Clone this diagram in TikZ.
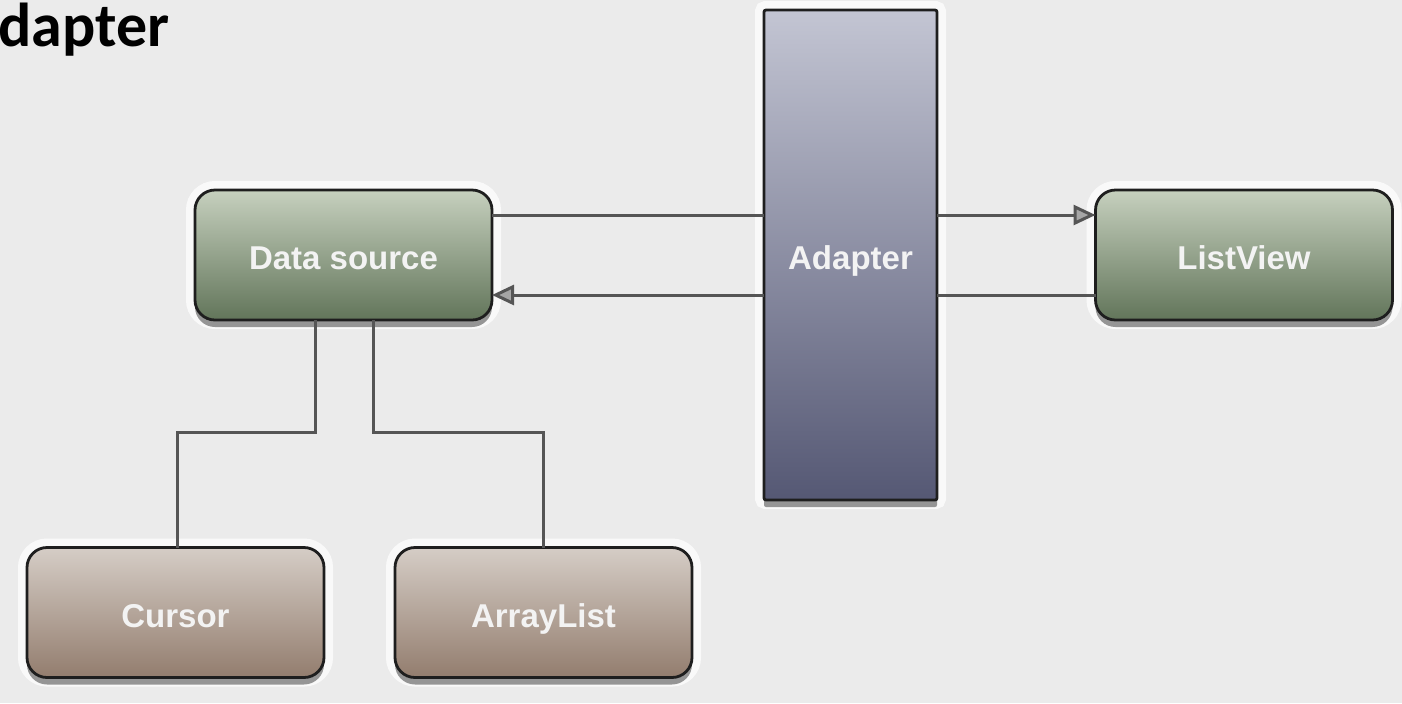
\documentclass[tikz,border=0pt]{standalone}
\usepackage{fontspec}
\setmainfont{Liberation Sans}
\newfontfamily\titlefont{Carlito}
\usetikzlibrary{shadows,arrows.meta}
\definecolor{bgc}{HTML}{EBEBEB}
\definecolor{greenT}{HTML}{C6D0BE}
\definecolor{greenB}{HTML}{62755A}
\definecolor{brownT}{HTML}{D5CDC6}
\definecolor{brownB}{HTML}{937D6E}
\definecolor{blueT}{HTML}{C3C5D3}
\definecolor{blueB}{HTML}{555874}
\definecolor{edgec}{HTML}{1E1E1E}
\definecolor{linec}{HTML}{555555}
\definecolor{labc}{HTML}{F3F3F3}
\tikzset{
  boxbase/.style={draw=edgec, line width=1.4pt, inner sep=0pt, outer sep=0pt,
    text=labc, font=\fontsize{16.5}{20}\selectfont\bfseries,
    text height=14.8pt, text depth=0pt,
    preaction={draw=white, line width=9pt, opacity=0.75},
    drop shadow={shadow xshift=0pt, shadow yshift=-3.5pt, opacity=0.4, fill=black}},
  roundbox/.style={boxbase, rounded corners=10pt, minimum width=148.5pt, minimum height=65pt},
  greenbox/.style={roundbox, top color=greenT, bottom color=greenB},
  brownbox/.style={roundbox, top color=brownT, bottom color=brownB},
  adapterbox/.style={boxbase, rounded corners=1pt, minimum width=86.5pt, minimum height=245pt,
    top color=blueT, bottom color=blueB},
  conn/.style={draw=linec, line width=1.5pt},
  arr/.style={conn, -{Triangle[length=11pt, width=10pt, fill=black!35]}}
}
\begin{document}
\begin{tikzpicture}[x=0.5pt, y=-0.5pt]
  \fill[bgc] (0,0) rectangle (1402,703);
  \useasboundingbox (0,0) rectangle (1402,703);
  \node[anchor=base west, inner sep=0pt, font=\titlefont\bfseries\fontsize{31}{36}\selectfont] (title) at (-2,46) {dapter};

  \node[adapterbox] (ad) at (850.5,255) {Adapter};
  \node[greenbox] (ds) at (343.5,255) {Data source};
  \node[greenbox] (lv) at (1244,255) {ListView};
  \node[brownbox] (cur) at (175.5,612.5) {Cursor};
  \node[brownbox] (al) at (543.5,612.5) {ArrayList};

  % horizontal connectors
  \draw[conn] ([yshift=20pt]ds.east) -- ([yshift=20pt]ad.west);
  \draw[arr] ([yshift=20pt]ad.east) -- ([yshift=20pt]lv.west);
  \draw[conn] ([yshift=-20pt]lv.west) -- ([yshift=-20pt]ad.east);
  \draw[arr] ([yshift=-20pt]ad.west) -- ([yshift=-20pt]ds.east);

  % vertical connectors
  \coordinate (dsL) at ([xshift=-14.25pt]ds.south);
  \coordinate (dsR) at ([xshift=14.75pt]ds.south);
  \coordinate (lvl) at (0,432);
  \draw[conn] (dsL) -- (dsL |- lvl) -| ([xshift=0.75pt]cur.north);
  \draw[conn] (dsR) -- (dsR |- lvl) -| (al.north);
\end{tikzpicture}
\end{document}
